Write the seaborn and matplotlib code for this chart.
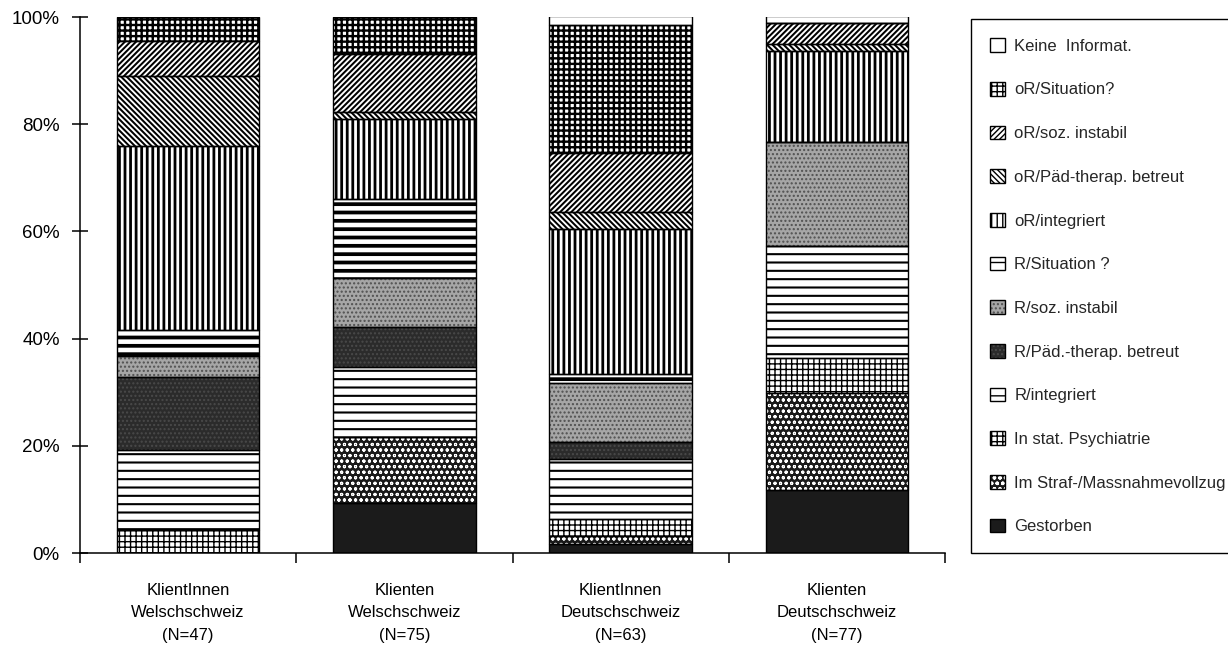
import numpy as np
import pandas as pd
import matplotlib
matplotlib.use("Agg")
import matplotlib.pyplot as plt
import matplotlib.patches as mpatches
from matplotlib.ticker import FixedLocator
import seaborn as sns

# ---------------- data ----------------
groups = ["KlientInnen\nWelschschweiz\n(N=47)",
          "Klienten\nWelschschweiz\n(N=75)",
          "KlientInnen\nDeutschschweiz\n(N=63)",
          "Klienten\nDeutschschweiz\n(N=77)"]

# categories from bottom of the stack to top
categories = ["Gestorben", "Im Straf-/Massnahmevollzug", "In stat. Psychiatrie",
              "R/integriert", "R/Päd.-therap. betreut", "R/soz. instabil",
              "R/Situation ?", "oR/integriert", "oR/Päd-therap. betreut",
              "oR/soz. instabil", "oR/Situation?", "Keine  Informat."]

gestorben    = [0.0, 9.3, 1.6, 11.7]
straf        = [0.0, 12.3, 1.6, 18.2]
psychiatrie  = [4.3, 0.0, 3.2, 6.5]
r_integriert = [14.9, 13.1, 11.1, 20.8]
r_paed       = [13.7, 7.4, 3.2, 0.0]
r_soz        = [3.9, 9.2, 11.1, 19.5]
r_situation  = [4.8, 14.7, 1.6, 0.0]
or_integriert = [34.4, 15.0, 27.0, 16.9]
or_paed      = [13.0, 1.3, 3.2, 1.3]
or_soz       = [6.5, 10.8, 11.1, 3.9]
or_situation = [4.5, 6.9, 23.8, 0.0]
keine_info   = [0.0, 0.0, 1.6, 1.3]

series = [gestorben, straf, psychiatrie, r_integriert, r_paed, r_soz,
          r_situation, or_integriert, or_paed, or_soz, or_situation, keine_info]

yticks = [0, 20, 40, 60, 80, 100]
ytick_labels = ["0%", "20%", "40%", "60%", "80%", "100%"]

# ---------------- styles (face, hatch, hatch colour, hatch lw) ----------------
styles = [
    ("#1b1b1b", None, "#1b1b1b", 1.0),              # Gestorben
    ("#1a1a1a", "ooo", "white", 0.75),              # Straf
    ("white", "+++", "black", 1.0),                 # Psychiatrie
    ("white", "--", "black", 1.5),                  # R/integriert
    ("#2b2b2b", "....", "#4a4a4a", 1.0),            # R/Päd
    ("#a6a6a6", "....", "#505050", 1.0),            # R/soz
    ("white", "--", "black", 2.7),                  # R/Situation
    ("white", "|||", "black", 2.0),                 # oR/integriert
    ("white", "\\\\\\\\\\\\", "black", 1.45),       # oR/Päd
    ("white", "//////", "black", 1.45),             # oR/soz
    ("white", "+++", "black", 1.7),                 # oR/Situation
    ("white", None, "black", 1.0),                  # Keine
]

sns.set_theme(style="white")
plt.rcParams["font.family"] = ["Liberation Sans", "DejaVu Sans"]

fig = plt.figure(figsize=(12.28, 6.5), dpi=100)
ax = fig.add_axes([80 / 1228, 1 - 553 / 650, (945 - 80) / 1228, (553 - 17) / 650])

df = pd.DataFrame({"group": groups})
bottoms = np.zeros(len(groups))
bar_width = 0.66


def set_hlw(patches, lw):
    for p in patches:
        if hasattr(p, "set_hatch_linewidth"):
            p.set_hatch_linewidth(lw)


for vals, (face, hatch, hcol, hlw) in zip(series, styles):
    d = df.copy()
    d["value"] = vals
    n0 = len(ax.patches)
    with plt.rc_context({"hatch.linewidth": hlw}):
        sns.barplot(data=d, x="group", y="value", order=groups, bottom=bottoms.copy(),
                    color=face, saturation=1, hatch=hatch, edgecolor=hcol,
                    linewidth=0, width=bar_width, errorbar=None, ax=ax)
    set_hlw(ax.patches[n0:], hlw)
    bottoms = bottoms + np.array(vals)

# outlines for every segment
bottoms = np.zeros(len(groups))
for vals in series:
    d = df.copy()
    d["value"] = vals
    sns.barplot(data=d, x="group", y="value", order=groups, bottom=bottoms.copy(),
                color="black", fill=False, edgecolor="black", linewidth=1.0,
                width=bar_width, errorbar=None, ax=ax)
    bottoms = bottoms + np.array(vals)

# ---------------- axes ----------------
ax.set_ylim(0, 100)
ax.set_xlim(-0.5, len(groups) - 0.5)
ax.set_xlabel("")
ax.set_ylabel("")
for s in ["top", "right"]:
    ax.spines[s].set_visible(False)
for s in ["left", "bottom"]:
    ax.spines[s].set_color("black")
    ax.spines[s].set_linewidth(1.1)

ax.set_yticks(yticks)
ax.set_yticklabels(ytick_labels)
ax.tick_params(axis="y", which="major", direction="inout", length=11, width=1.1,
               color="black", pad=9, labelsize=13.5, labelcolor="black", left=True)
ax.set_xticks(range(len(groups)))
ax.set_xticklabels(groups, linespacing=1.62)
ax.tick_params(axis="x", which="major", length=0, pad=21.5, labelsize=12,
               labelcolor="black")
ax.xaxis.set_minor_locator(FixedLocator(np.arange(-0.5, len(groups), 1.0)))
ax.tick_params(axis="x", which="minor", direction="out", length=7.5, width=1.1,
               color="black", bottom=True)

# ---------------- legend ----------------
handles = []
for (face, hatch, hcol, hlw) in styles:
    p1 = mpatches.Patch(facecolor=face, hatch=hatch, edgecolor=hcol, linewidth=0)
    if hasattr(p1, "set_hatch_linewidth"):
        p1.set_hatch_linewidth(hlw)
    p2 = mpatches.Patch(fill=False, edgecolor="black", linewidth=1.0)
    handles.append((p1, p2))

leg = fig.legend(handles[::-1], categories[::-1], loc="upper left",
                 bbox_to_anchor=(971 / 1228, 1 - 19 / 650),
                 frameon=True, fancybox=False, shadow=False, framealpha=1,
                 edgecolor="black", fontsize=12, handlelength=0.9,
                 handleheight=0.9, handletextpad=0.55, labelspacing=1.68,
                 borderpad=1.15, borderaxespad=0)
leg.get_frame().set_linewidth(1.0)

fig.savefig("out.png", dpi=100, facecolor="white")
